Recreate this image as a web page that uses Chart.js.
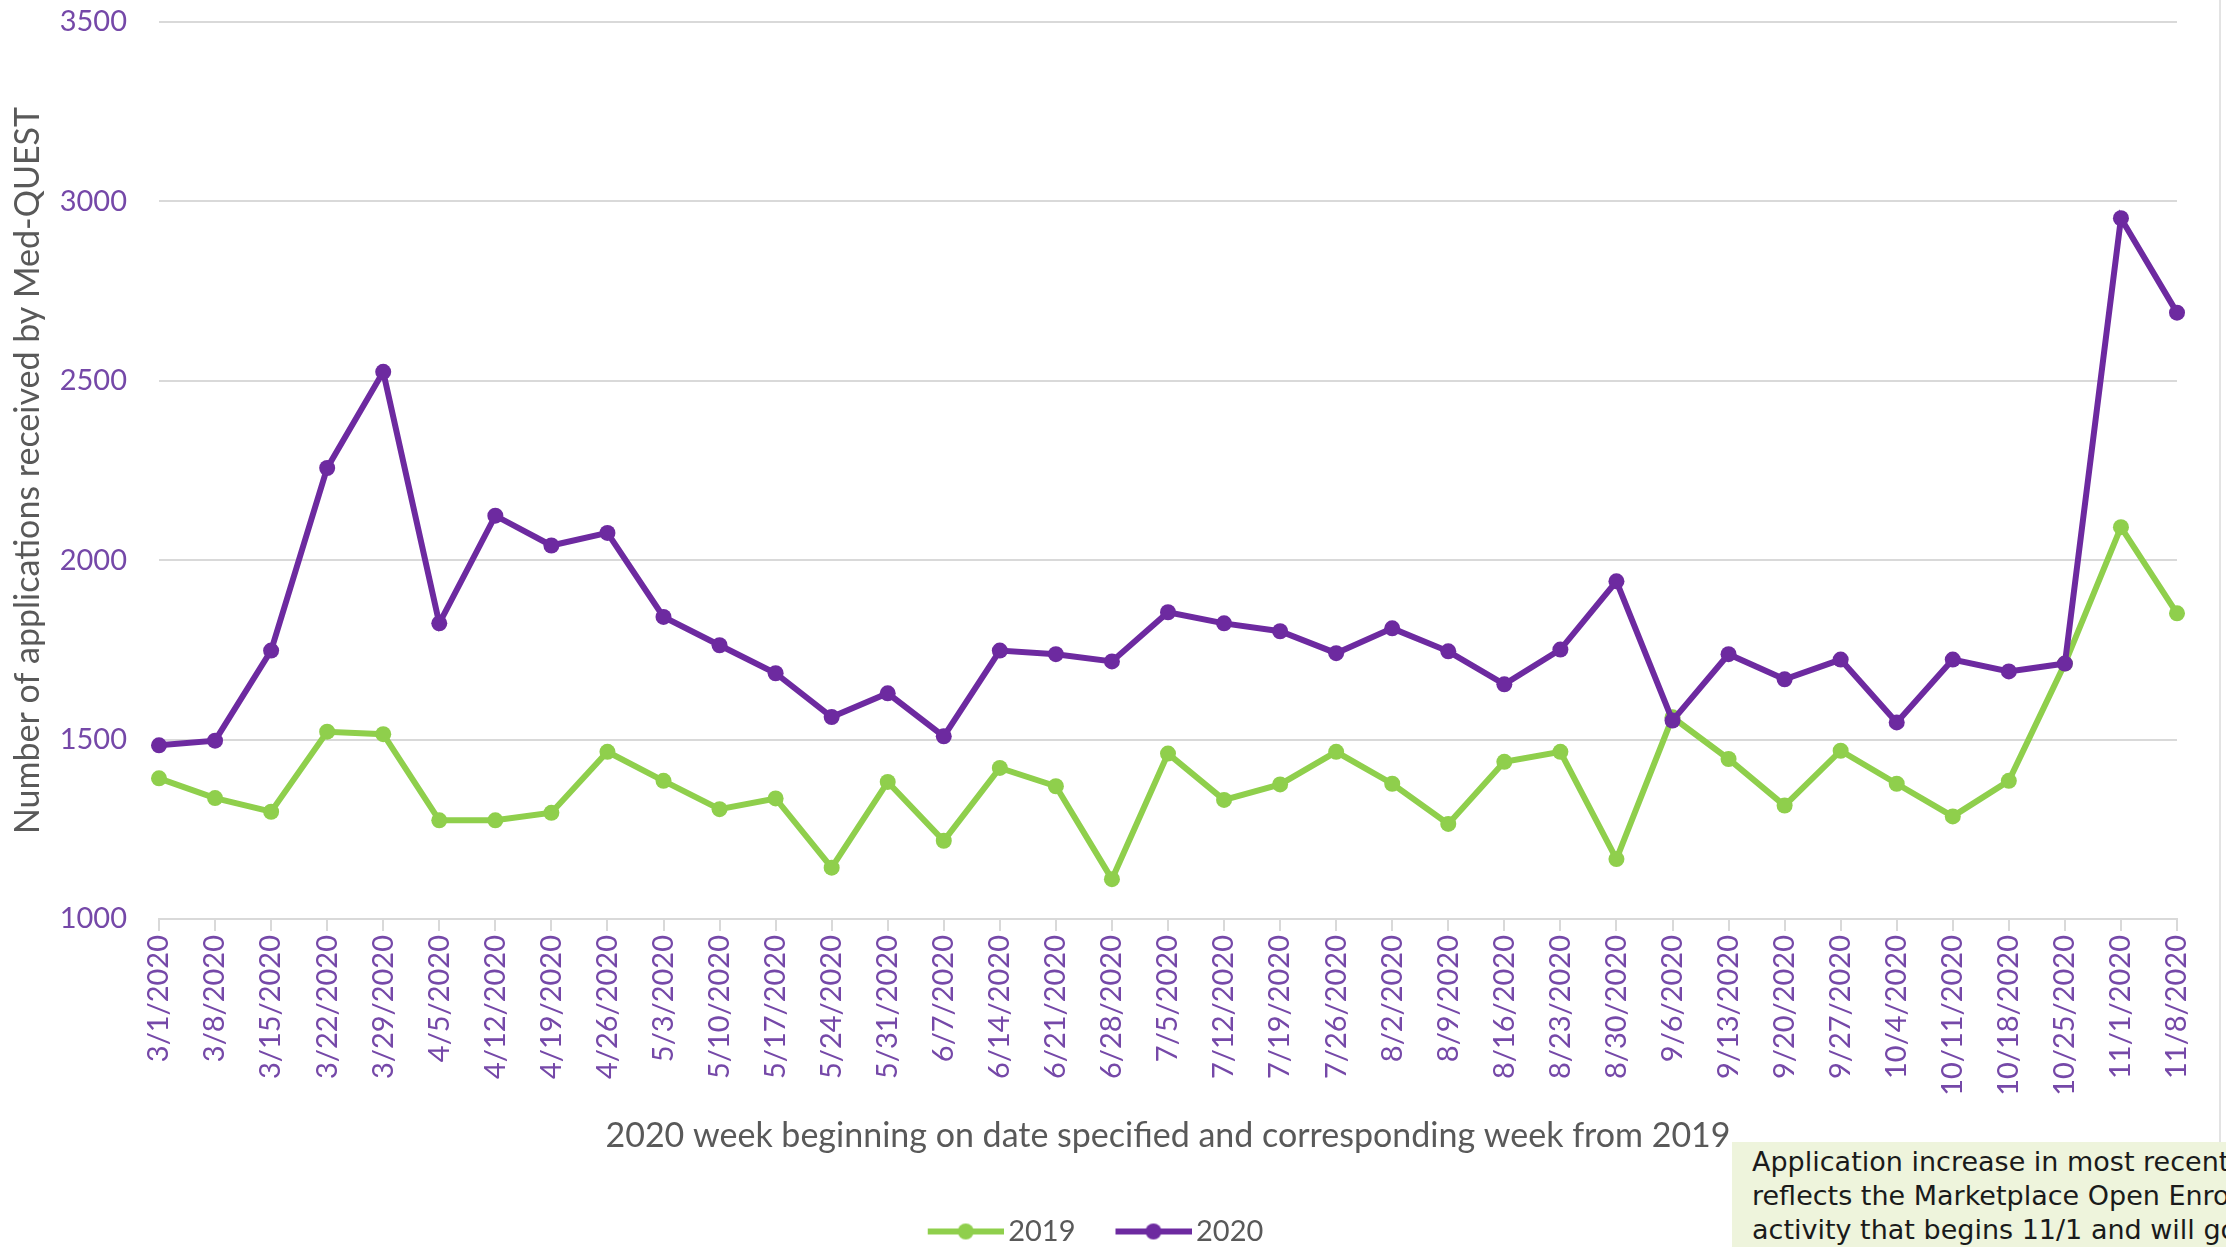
<!DOCTYPE html>
<html>
<head>
<meta charset="utf-8">
<script src="https://cdn.jsdelivr.net/npm/chart.js@4.4.0/dist/chart.umd.min.js"></script>
<style>
  html, body { margin: 0; padding: 0; background: #fff; overflow: hidden; }
  #wrap { position: relative; width: 2226px; height: 1247px; }
  #frame { position: absolute; left: 2219px; top: 0; width: 0; height: 1142px; border-left: 2px solid #e3e3e3; }
  #note {
    position: absolute; left: 1732px; top: 1142px; width: 494px; height: 105px;
    background: #eef4dc; color: #1a1a1a; overflow: hidden; white-space: nowrap;
    font-family: "DejaVu Sans", sans-serif; font-size: 27px; line-height: 34px;
    padding: 3px 0 0 20px; box-sizing: border-box;
  }
</style>
</head>
<body>
<div id="wrap">
  <canvas id="chart" width="2226" height="1247"></canvas>
  <div id="frame"></div>
  <div id="note">Application increase in most recent week<br>reflects the Marketplace Open Enrollment<br>activity that begins 11/1 and will go on</div>
</div>
<script>
const weeks = ['3/1/2020','3/8/2020','3/15/2020','3/22/2020','3/29/2020','4/5/2020','4/12/2020','4/19/2020','4/26/2020',
  '5/3/2020','5/10/2020','5/17/2020','5/24/2020','5/31/2020','6/7/2020','6/14/2020','6/21/2020','6/28/2020',
  '7/5/2020','7/12/2020','7/19/2020','7/26/2020','8/2/2020','8/9/2020','8/16/2020','8/23/2020','8/30/2020',
  '9/6/2020','9/13/2020','9/20/2020','9/27/2020','10/4/2020','10/11/2020','10/18/2020','10/25/2020','11/1/2020','11/8/2020'];

const apps2019 = [1392,1337,1299,1522,1515,1275,1275,1296,1466,1385,1306,1336,1143,1382,1218,1421,1370,1111,1461,
  1332,1375,1466,1377,1265,1438,1466,1167,1562,1446,1316,1469,1377,1286,1385,1712,2092,1852];

const apps2020 = [1484,1497,1748,2257,2525,1824,2124,2041,2076,1842,1763,1685,1563,1629,1509,1748,1738,1718,1855,
  1824,1802,1741,1810,1746,1654,1751,1941,1553,1738,1668,1723,1548,1723,1690,1712,2953,2690];

const GREEN = '#8fcf4c';
const PURPLE = '#6d2aa0';
const TICK = '#7548a8';
const GREY = '#595959';
const AXISFONT = 'Lato, "Open Sans", sans-serif';

// legend swatch: line with a dot, drawn a bit right of centre so it sits close to its text
function legendMark(color) {
  const c = document.createElement('canvas');
  c.width = 96; c.height = 18;
  const g = c.getContext('2d');
  g.strokeStyle = color; g.lineWidth = 6;
  g.beginPath(); g.moveTo(20, 9); g.lineTo(96, 9); g.stroke();
  g.fillStyle = color;
  g.beginPath(); g.arc(58, 9, 8, 0, Math.PI * 2); g.fill();
  return c;
}
const marks = [legendMark(GREEN), legendMark(PURPLE)];

new Chart(document.getElementById('chart'), {
  type: 'line',
  data: {
    labels: weeks,
    datasets: [
      { label: '2019', data: apps2019, borderColor: GREEN, backgroundColor: GREEN, borderWidth: 6,
        pointRadius: 8, pointBorderWidth: 0, pointBackgroundColor: GREEN, tension: 0, order: 2 },
      { label: '2020', data: apps2020, borderColor: PURPLE, backgroundColor: PURPLE, borderWidth: 6,
        pointRadius: 8, pointBorderWidth: 0, pointBackgroundColor: PURPLE, tension: 0, order: 1 }
    ]
  },
  options: {
    responsive: false,
    animation: false,
    layout: { padding: { left: 4, top: 22, right: 49, bottom: -9 } },
    plugins: {
      tooltip: { enabled: false },
      legend: {
        position: 'bottom',
        labels: {
          usePointStyle: true,
          pointStyleWidth: 76,
          color: GREY,
          padding: 30,
          font: { family: AXISFONT, size: 29 },
          sort: (a, b) => a.datasetIndex - b.datasetIndex,
          generateLabels(chart) {
            const items = Chart.defaults.plugins.legend.labels.generateLabels(chart);
            items.forEach(it => { it.pointStyle = marks[it.datasetIndex]; });
            return items;
          }
        }
      }
    },
    scales: {
      x: {
        offset: false,
        afterFit(scale) { scale.height = 268; },
        grid: { drawOnChartArea: false, drawTicks: true, tickLength: 12, color: '#d9d9d9', lineWidth: 2 },
        border: { color: '#d9d9d9', width: 2 },
        ticks: { autoSkip: false, maxRotation: 90, minRotation: 90, color: TICK, padding: 4,
          font: { family: AXISFONT, size: 29 } },
        title: { display: true, text: '2020 week beginning on date specified and corresponding week from 2019',
          color: GREY, font: { family: AXISFONT, size: 34 }, padding: { top: 0, bottom: 31 } }
      },
      y: {
        min: 1000, max: 3500,
        afterFit(scale) { scale.width = 155; },
        // invisible tick marks hold the labels away from the plot without adding top padding
        grid: { color: '#d9d9d9', lineWidth: 2, drawTicks: true, tickLength: 30, tickColor: 'rgba(0,0,0,0)' },
        border: { display: false },
        ticks: { stepSize: 500, color: TICK, padding: 2, font: { family: AXISFONT, size: 29 },
          callback: v => String(v) },
        title: { display: true, text: 'Number of applications received by Med-QUEST',
          color: GREY, font: { family: AXISFONT, size: 34 }, padding: { top: 4, bottom: 0 } }
      }
    }
  }
});
</script>
</body>
</html>
